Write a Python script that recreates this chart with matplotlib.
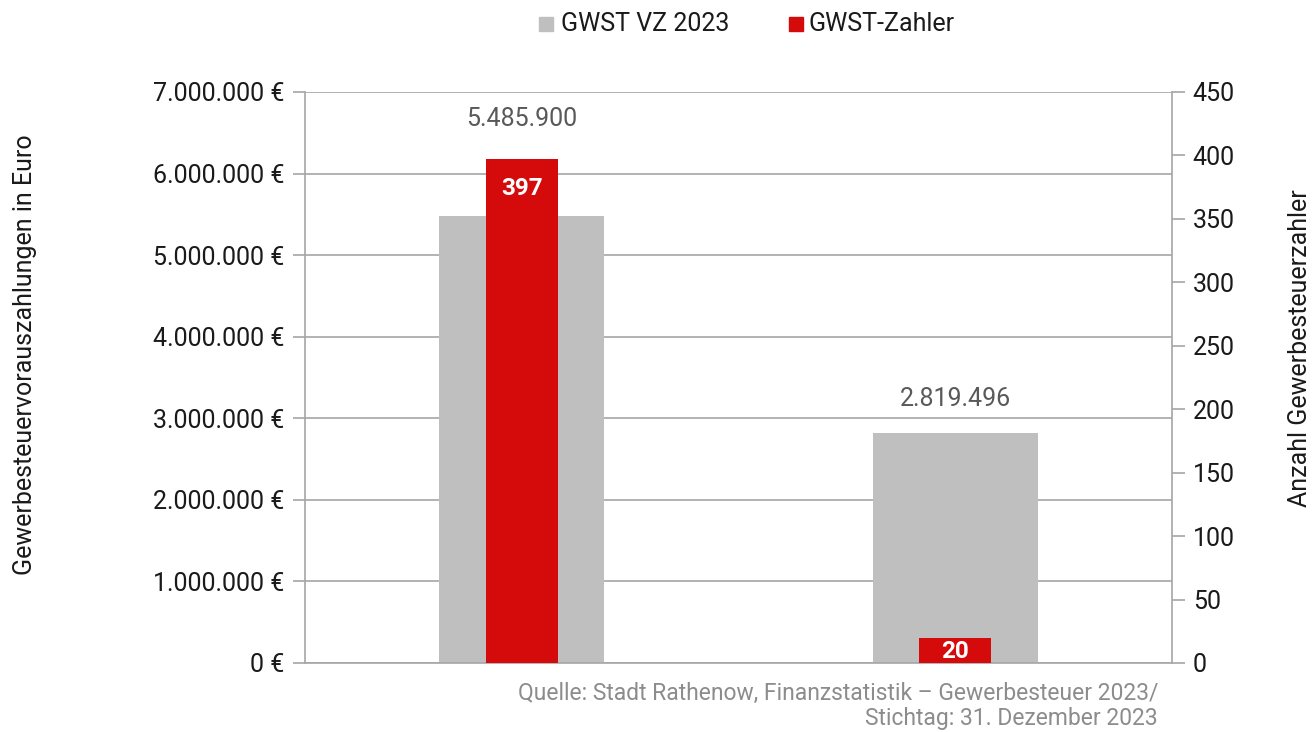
import matplotlib
matplotlib.use("Agg")
from matplotlib import pyplot as plt
from matplotlib.patches import Rectangle

plt.rcParams['font.family'] = ['Roboto', 'DejaVu Sans']

# Daten
kategorien = ["A", "B"]
gwst_vz = [5485900, 2819496]          # linke Achse (Euro)
gwst_zahler = [397, 20]               # rechte Achse (Anzahl)
vz_labels = ["5.485.900", "2.819.496"]
vz_offsets = [97, 34]                 # Pixel-Abstand Balkenende -> Beschriftungsmitte
zahler_offsets = [29, 14]             # Pixel von Balkenoberkante nach unten
links_ticks = [0, 1e6, 2e6, 3e6, 4e6, 5e6, 6e6, 7e6]
links_ticklabels = ["0 €", "1.000.000 €", "2.000.000 €", "3.000.000 €",
                    "4.000.000 €", "5.000.000 €", "6.000.000 €", "7.000.000 €"]
rechts_ticks = list(range(0, 451, 50))

GRAU = "#BFBFBF"
ROT = "#D40A0B"
LINIE = "#A6A6A6"
TEXT = "#1A1A1A"
FS = 18
PX = 0.72  # Pixel -> Punkt bei 100 dpi

fig = plt.figure(figsize=(13.15, 7.32), dpi=100)
ax = fig.add_axes([305/1315, 69/732, 867/1315, 571/732])
ax2 = ax.twinx()

x = list(range(len(kategorien)))
ax.bar(x, gwst_vz, width=0.38, color=GRAU, zorder=2)
ax2.bar(x, gwst_zahler, width=0.166, color=ROT, zorder=3)

ax.set_xlim(-0.5, 1.5)
ax.set_ylim(0, 7e6)
ax2.set_ylim(0, 450)
ax.set_xticks([])

ax.set_yticks(links_ticks)
ax.set_yticklabels(links_ticklabels)
ax2.set_yticks(rechts_ticks)
ax.yaxis.grid(True, color=LINIE, lw=1.2, zorder=0)
ax.set_axisbelow(True)

for a in (ax, ax2):
    a.tick_params(axis='y', length=9, width=1.2, color=LINIE, labelsize=FS,
                  labelcolor=TEXT, pad=6)
    for s in a.spines.values():
        s.set_visible(False)
ax.spines['left'].set_visible(True)
ax.spines['left'].set_color(LINIE)
ax.spines['left'].set_linewidth(1.2)
ax.spines['bottom'].set_visible(True)
ax.spines['bottom'].set_color(LINIE)
ax.spines['bottom'].set_linewidth(1.2)
ax2.spines['right'].set_visible(True)
ax2.spines['right'].set_color(LINIE)
ax2.spines['right'].set_linewidth(1.2)

# Beschriftungen
for xi, v, lab, off in zip(x, gwst_vz, vz_labels, vz_offsets):
    ax.annotate(lab, (xi, v), xytext=(0, off * PX), textcoords='offset points',
                ha='center', va='center', fontsize=FS, color="#595959")
for xi, n, off in zip(x, gwst_zahler, zahler_offsets):
    ax2.annotate(str(n), (xi, n), xytext=(0, -off * PX), textcoords='offset points',
                 ha='center', va='center', fontsize=17.5, color='white',
                 fontweight='bold', zorder=5)

fig.text(25/1315, 1 - 355/732, "Gewerbesteuervorauszahlungen in Euro",
         rotation=90, ha='center', va='center', fontsize=FS, color=TEXT)
fig.text(1300/1315, 1 - 348/732, "Anzahl Gewerbesteuerzahler",
         rotation=90, ha='center', va='center', fontsize=FS, color=TEXT)

# Legende
fig.patches.append(Rectangle((539/1315, 1 - 31/732), 14/1315, 14/732,
                             transform=fig.transFigure, color=GRAU))
fig.text(561/1315, 1 - 24/732, "GWST VZ 2023", ha='left', va='center',
         fontsize=FS, color=TEXT)
fig.patches.append(Rectangle((789/1315, 1 - 31/732), 14/1315, 14/732,
                             transform=fig.transFigure, color=ROT))
fig.text(809/1315, 1 - 24/732, "GWST-Zahler", ha='left', va='center',
         fontsize=FS, color=TEXT)

# Quelle
fig.text(1158/1315, 1 - 693/732, "Quelle: Stadt Rathenow, Finanzstatistik – Gewerbesteuer 2023/",
         ha='right', va='center', fontsize=16.5, color="#8C8C8C")
fig.text(1158/1315, 1 - 719/732, "Stichtag: 31. Dezember 2023",
         ha='right', va='center', fontsize=16.5, color="#8C8C8C")

fig.savefig("out.png", dpi=100)
